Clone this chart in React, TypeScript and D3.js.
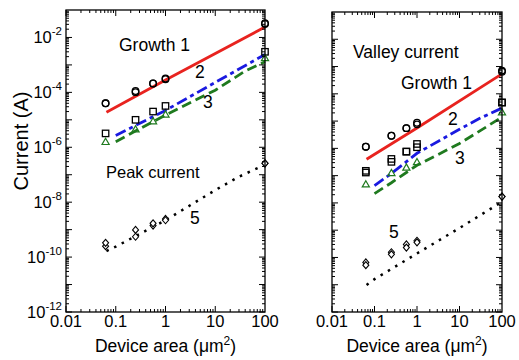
import React from "react";
import * as d3 from "d3";

// ---------- data ----------
const areas = [0.0625, 0.25, 0.5625, 1, 100];

// Peak current panel (left)
const peakG1 = [4.0e-5, 1.12e-4, 2.1e-4, 3.2e-4, 3.3e-2];
const peakG1b = [4.0e-5, 1.02e-4, 2.1e-4, 3.0e-4, 3.1e-2];
const peakG2 = [3.2e-6, 1.0e-5, 2.0e-5, 3.2e-5, 3.0e-3];
const peakG3 = [1.5e-6, 4.3e-6, 8.5e-6, 1.5e-5, 1.7e-3];
const peakG5a = [2.5e-10, 5.5e-10, 1.4e-9, 2.45e-9, 2.6e-7];
const peakG5b = [3.3e-10, 9.8e-10, 1.7e-9, 2.2e-9, 2.6e-7];

const peakFit1X = [0.065, 1, 100];
const peakFit1Y = [1.9e-5, 2.8e-4, 2.4e-2];
const peakFit2X = [0.1, 1, 10, 100];
const peakFit2Y = [2.7e-6, 2.2e-5, 2.3e-4, 2.4e-3];
const peakFit3X = [0.1, 1, 10, 40, 100];
const peakFit3Y = [1.6e-6, 1.5e-5, 1.2e-4, 6.0e-4, 1.3e-3];
const peakFit5X = [0.065, 0.1, 1, 10, 30, 100];
const peakFit5Y = [1.66e-10, 2.4e-10, 2.2e-9, 2.75e-8, 8.5e-8, 2.3e-7];

// Valley current panel (right)
const valG1 = [1.15e-6, 2.9e-6, 5.5e-6, 8.7e-6, 7.1e-4];
const valG1b = [1.15e-6, 2.9e-6, 5.5e-6, 7.6e-6, 6.5e-4];
const valG2 = [1.5e-7, 4.1e-7, 7.6e-7, 1.45e-6, 4.8e-5];
const valG2b = [1.3e-7, 3.2e-7, 7.6e-7, 1.1e-6, 4.8e-5];
const valG3 = [4.6e-8, 1.2e-7, 1.9e-7, 3.0e-7, 2.0e-5];
const valG5a = [6.6e-11, 1.55e-10, 3.0e-10, 4.1e-10, 1.7e-8];
const valG5b = [5.2e-11, 1.3e-10, 2.3e-10, 3.6e-10, 1.7e-8];

const valFit1X = [0.065, 1, 100];
const valFit1Y = [4.0e-7, 5.6e-6, 5.4e-4];
const valFit2X = [0.1, 0.25, 1, 10, 30, 100];
const valFit2Y = [4.3e-8, 1.2e-7, 6.6e-7, 5.0e-6, 1.26e-5, 3.0e-5];
const valFit3X = [0.1, 0.25, 1, 10, 100];
const valFit3Y = [2.2e-8, 5.5e-8, 2.4e-7, 1.5e-6, 1.4e-5];
const valFit5X = [0.065, 0.1, 1, 10, 100];
const valFit5Y = [9.8e-12, 1.6e-11, 1.4e-10, 1.2e-9, 1.1e-8];

const xTickValues = [0.01, 0.1, 1, 10, 100];
const xTickLabels = ["0.01", "0.1", "1", "10", "100"];
const yTickExps = [-2, -4, -6, -8, -10, -12];

// ---------- styles ----------
const FONT = "'Liberation Sans', Arial, Helvetica, sans-serif";
const RED = "#e8231f";
const BLUE = "#1a1ae0";
const GREEN = "#1f7a1f";

type Panel = {
  x0: number; x1: number; y0: number; y1: number;
};

const leftP: Panel = { x0: 66, x1: 265, y0: 10, y1: 312 };
const rightP: Panel = { x0: 332, x1: 502, y0: 12, y1: 312 };

function scales(p: Panel) {
  const x = d3.scaleLog().domain([0.01, 100]).range([p.x0, p.x1]);
  const y = d3.scaleLog().domain([1e-12, 1e-1]).range([p.y1, p.y0]);
  return { x, y };
}

function Ticks({ p }: { p: Panel }) {
  const { x, y } = scales(p);
  const els: React.ReactNode[] = [];
  let k = 0;
  for (let e = -12; e <= -2; e++) {
    for (let m = 1; m <= 9; m++) {
      const v = m * Math.pow(10, e);
      const yy = y(v);
      const len = m === 1 ? 6 : 3;
      els.push(<line key={k++} x1={p.x0} x2={p.x0 + len} y1={yy} y2={yy} />);
      els.push(<line key={k++} x1={p.x1} x2={p.x1 - len} y1={yy} y2={yy} />);
    }
  }
  for (let e = -2; e <= 1; e++) {
    for (let m = 1; m <= 9; m++) {
      const v = m * Math.pow(10, e);
      const xx = x(v);
      const len = m === 1 ? 6 : 3;
      els.push(<line key={k++} x1={xx} x2={xx} y1={p.y1} y2={p.y1 - len} />);
      els.push(<line key={k++} x1={xx} x2={xx} y1={p.y0} y2={p.y0 + len} />);
    }
  }
  return <g stroke="#000" strokeWidth={1}>{els}</g>;
}

function Circles({ p, xs, ys }: { p: Panel; xs: number[]; ys: number[] }) {
  const { x, y } = scales(p);
  return (
    <g fill="none" stroke="#000" strokeWidth={1.3}>
      {xs.map((v, i) => (
        <circle key={i} cx={x(v)} cy={y(ys[i])} r={3.3} />
      ))}
    </g>
  );
}
function Squares({ p, xs, ys }: { p: Panel; xs: number[]; ys: number[] }) {
  const { x, y } = scales(p);
  return (
    <g fill="none" stroke="#000" strokeWidth={1.3}>
      {xs.map((v, i) => (
        <rect key={i} x={x(v) - 3.2} y={y(ys[i]) - 3.2} width={6.4} height={6.4} />
      ))}
    </g>
  );
}
function Triangles({ p, xs, ys }: { p: Panel; xs: number[]; ys: number[] }) {
  const { x, y } = scales(p);
  const sym = d3.symbol(d3.symbolTriangle, 22);
  return (
    <g fill="none" stroke={GREEN} strokeWidth={1.2}>
      {xs.map((v, i) => (
        <path key={i} d={sym() as string} transform={`translate(${x(v)},${y(ys[i])})`} />
      ))}
    </g>
  );
}
function Diamonds({ p, xs, ys }: { p: Panel; xs: number[]; ys: number[] }) {
  const { x, y } = scales(p);
  return (
    <g fill="#fff" stroke="#000" strokeWidth={1.1}>
      {xs.map((v, i) => {
        const cx = x(v), cy = y(ys[i]);
        return <path key={i} d={`M${cx},${cy - 3.5}L${cx + 3},${cy}L${cx},${cy + 3.5}L${cx - 3},${cy}Z`} />;
      })}
    </g>
  );
}

function Curve({ p, xs, ys, color, dash, width = 2.8 }: { p: Panel; xs: number[]; ys: number[]; color: string; dash?: string; width?: number }) {
  const { x, y } = scales(p);
  const line = d3.line<number>().x((d) => x(d)).y((_, i) => y(ys[i]));
  return <path d={line(xs) as string} fill="none" stroke={color} strokeWidth={width} strokeDasharray={dash} />;
}

function Frame({ p, ylabels }: { p: Panel; ylabels: boolean }) {
  const { x, y } = scales(p);
  return (
    <g>
      <rect x={p.x0} y={p.y0} width={p.x1 - p.x0} height={p.y1 - p.y0} fill="none" stroke="#000" strokeWidth={1.3} />
      <Ticks p={p} />
      {xTickValues.map((v, i) => (
        <text key={i} x={x(v)} y={327} textAnchor="middle" fontSize={16.5} fontFamily={FONT}>{xTickLabels[i]}</text>
      ))}
      {ylabels &&
        yTickExps.map((e) => (
          <text key={e} x={62} y={y(Math.pow(10, e)) + 6} textAnchor="end" fontSize={16.5} fontFamily={FONT}>
            10<tspan fontSize={11.5} dy={-8}>{String(e)}</tspan>
          </text>
        ))}
      <text x={(p.x0 + p.x1) / 2} y={352} textAnchor="middle" fontSize={17.5} fontFamily={FONT}>
        Device area (μm<tspan fontSize={12} dy={-7}>2</tspan><tspan dy={7}>)</tspan>
      </text>
    </g>
  );
}

export default function App() {
  const L = leftP, R = rightP;
  return (
    <svg width={519} height={360} style={{ position: "absolute", left: 0, top: 0, background: "#fff" }}>
      <rect x={0} y={0} width={519} height={360} fill="#fff" />
      {/* Left: peak current */}
      <Curve p={L} xs={peakFit1X} ys={peakFit1Y} color={RED} />
      <Curve p={L} xs={peakFit2X} ys={peakFit2Y} color={BLUE} dash="11 4 4 4" />
      <Curve p={L} xs={peakFit3X} ys={peakFit3Y} color={GREEN} dash="10 5" />
      <Curve p={L} xs={peakFit5X} ys={peakFit5Y} color="#000" dash="2.5 6" width={2.5} />
      <Circles p={L} xs={areas} ys={peakG1} />
      <Circles p={L} xs={areas} ys={peakG1b} />
      <Squares p={L} xs={areas} ys={peakG2} />
      <Triangles p={L} xs={areas} ys={peakG3} />
      <Diamonds p={L} xs={areas} ys={peakG5a} />
      <Diamonds p={L} xs={areas} ys={peakG5b} />
      <Frame p={L} ylabels={true} />
      <text x={28} y={141} transform="rotate(-90 28 141)" textAnchor="middle" fontSize={20} fontFamily={FONT}>Current (A)</text>
      <g fontSize={17.5} fontFamily={FONT}>
        <text x={119} y={51}>Growth 1</text>
        <text x={195} y={78}>2</text>
        <text x={203} y={108}>3</text>
        <text x={106} y={178} fontSize={16.5}>Peak current</text>
        <text x={190} y={224}>5</text>
      </g>

      {/* Right: valley current */}
      <Curve p={R} xs={valFit1X} ys={valFit1Y} color={RED} />
      <Curve p={R} xs={valFit2X} ys={valFit2Y} color={BLUE} dash="11 4 4 4" />
      <Curve p={R} xs={valFit3X} ys={valFit3Y} color={GREEN} dash="10 5" />
      <Curve p={R} xs={valFit5X} ys={valFit5Y} color="#000" dash="2.5 6" width={2.5} />
      <Circles p={R} xs={areas} ys={valG1} />
      <Circles p={R} xs={areas} ys={valG1b} />
      <Squares p={R} xs={areas} ys={valG2} />
      <Squares p={R} xs={areas} ys={valG2b} />
      <Triangles p={R} xs={areas} ys={valG3} />
      <Diamonds p={R} xs={areas} ys={valG5a} />
      <Diamonds p={R} xs={areas} ys={valG5b} />
      <Frame p={R} ylabels={false} />
      <g fontSize={17.5} fontFamily={FONT}>
        <text x={353} y={58}>Valley current</text>
        <text x={401} y={89}>Growth 1</text>
        <text x={448} y={125}>2</text>
        <text x={455} y={164}>3</text>
        <text x={389} y={238}>5</text>
      </g>
    </svg>
  );
}
